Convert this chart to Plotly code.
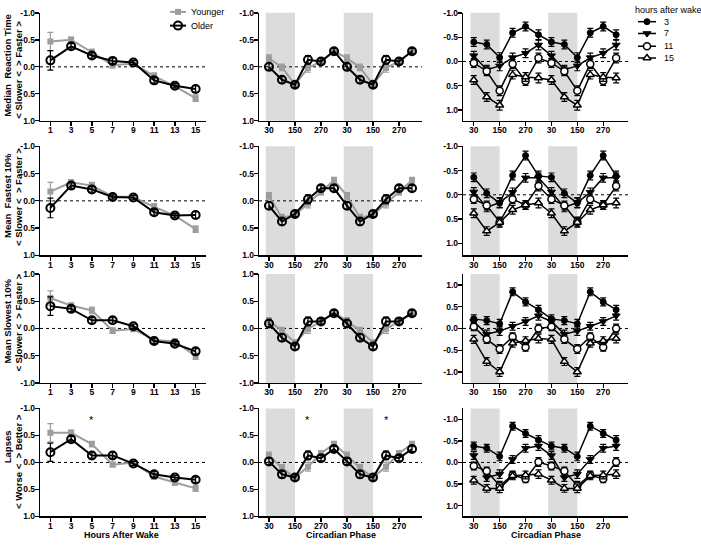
import plotly.graph_objects as go
from plotly.subplots import make_subplots

W, H = 701, 546

hours = [1, 3, 5, 7, 9, 11, 13, 15]
# circadian phase is double-plotted: 6 bins shown twice
phase = [30, 90, 150, 210, 270, 330, 390, 450, 510, 570, 630, 690]
phase_ticks = [30, 150, 270, 390, 510, 630]
phase_labels = ['30', '150', '270', '30', '150', '270']
y_ticks = [-1.0, -0.5, 0.0, 0.5, 1.0]
y_labels = ['-1.0', '-0.5', '0.0', '0.5', '1.0']
groups = ['Younger', 'Older']
wake_groups = ['3', '7', '11', '15']

# --- column 1: hours after wake ---
young_rt_hw = [-0.47, -0.50, -0.27, -0.03, -0.06, 0.17, 0.36, 0.58]
young_rt_hw_err = [0.17, 0.05, 0.06, 0.05, 0.05, 0.06, 0.05, 0.06]
old_rt_hw = [-0.12, -0.38, -0.21, -0.11, -0.08, 0.25, 0.35, 0.41]
old_rt_hw_err = [0.18, 0.05, 0.05, 0.05, 0.04, 0.05, 0.04, 0.06]

young_fast_hw = [-0.17, -0.34, -0.28, -0.08, -0.07, 0.11, 0.27, 0.52]
young_fast_hw_err = [0.17, 0.05, 0.06, 0.05, 0.04, 0.06, 0.05, 0.06]
old_fast_hw = [0.13, -0.28, -0.21, -0.07, -0.06, 0.21, 0.27, 0.26]
old_fast_hw_err = [0.18, 0.05, 0.05, 0.04, 0.04, 0.05, 0.04, 0.06]

young_slow_hw = [0.56, 0.42, 0.33, -0.04, -0.01, -0.21, -0.24, -0.51]
young_slow_hw_err = [0.13, 0.05, 0.06, 0.05, 0.05, 0.05, 0.05, 0.06]
old_slow_hw = [0.41, 0.36, 0.15, 0.15, 0.04, -0.23, -0.28, -0.42]
old_slow_hw_err = [0.17, 0.05, 0.05, 0.05, 0.04, 0.05, 0.04, 0.05]

young_lapse_hw = [-0.55, -0.55, -0.34, 0.04, 0.00, 0.26, 0.37, 0.48]
young_lapse_hw_err = [0.17, 0.05, 0.05, 0.04, 0.04, 0.05, 0.05, 0.05]
old_lapse_hw = [-0.19, -0.43, -0.13, -0.13, 0.02, 0.22, 0.28, 0.32]
old_lapse_hw_err = [0.17, 0.05, 0.05, 0.05, 0.04, 0.05, 0.04, 0.05]

# --- column 2: circadian phase by age group (6 bins) ---
young_rt_cp = [-0.16, 0.01, 0.33, 0.02, -0.10, -0.29]
old_rt_cp = [0.00, 0.24, 0.33, -0.13, -0.10, -0.29]
young_fast_cp = [-0.09, 0.31, 0.26, 0.05, -0.16, -0.38]
old_fast_cp = [0.09, 0.38, 0.24, -0.03, -0.23, -0.23]
young_slow_cp = [0.14, -0.04, -0.26, -0.01, 0.13, 0.29]
old_slow_cp = [0.09, -0.17, -0.33, 0.13, 0.13, 0.28]
young_lapse_cp = [-0.13, 0.10, 0.28, 0.08, -0.17, -0.34]
old_lapse_cp = [-0.02, 0.22, 0.28, -0.13, -0.08, -0.25]
cp_err = [0.06, 0.06, 0.05, 0.08, 0.05, 0.05]

# --- column 3: circadian phase by hours after wake (6 bins) ---
wake_rt = [
    [-0.40, -0.35, -0.08, -0.59, -0.72, -0.55],
    [-0.12, 0.17, 0.09, -0.08, -0.17, -0.34],
    [0.03, 0.20, 0.60, 0.05, 0.40, -0.07],
    [0.38, 0.73, 0.90, 0.27, 0.32, 0.34],
]
wake_fast = [
    [-0.36, -0.03, 0.17, -0.40, -0.81, -0.39],
    [-0.06, 0.26, 0.16, -0.05, -0.35, -0.35],
    [0.09, 0.22, 0.56, 0.09, 0.21, -0.18],
    [0.38, 0.75, 0.57, 0.31, 0.21, 0.17],
]
wake_slow = [
    [0.22, 0.18, 0.11, 0.84, 0.61, 0.43],
    [0.16, -0.13, -0.06, 0.05, 0.16, 0.29],
    [0.04, -0.25, -0.47, -0.19, -0.43, 0.00],
    [-0.25, -0.76, -1.00, -0.34, -0.28, -0.23],
]
wake_lapse = [
    [-0.38, -0.33, -0.14, -0.84, -0.67, -0.52],
    [-0.16, 0.35, 0.27, -0.07, -0.33, -0.38],
    [0.08, 0.20, 0.54, 0.29, 0.38, -0.01],
    [0.41, 0.60, 0.60, 0.31, 0.29, 0.27],
]
wake_err = [0.09, 0.09, 0.10, 0.09, 0.09, 0.10]

row_titles = [
    ('Median&nbsp; Reaction Time', '&lt; Slower &lt;&nbsp; &gt; Faster &gt;'),
    ('Mean&nbsp; Fastest 10%', '&lt; Slower &lt;&nbsp; &gt; Faster &gt;'),
    ('Mean Slowest 10%', '&lt; Slower &lt;&nbsp; &gt; Faster &gt;'),
    ('Lapses', '&lt; Worse &lt;&nbsp; &gt; Better &gt;'),
]

hw_young = [(young_rt_hw, young_rt_hw_err), (young_fast_hw, young_fast_hw_err),
            (young_slow_hw, young_slow_hw_err), (young_lapse_hw, young_lapse_hw_err)]
hw_old = [(old_rt_hw, old_rt_hw_err), (old_fast_hw, old_fast_hw_err),
          (old_slow_hw, old_slow_hw_err), (old_lapse_hw, old_lapse_hw_err)]
cp_young = [young_rt_cp, young_fast_cp, young_slow_cp, young_lapse_cp]
cp_old = [old_rt_cp, old_fast_cp, old_slow_cp, old_lapse_cp]
cp_wake = [wake_rt, wake_fast, wake_slow, wake_lapse]

GRAY = '#9d9d9d'
FONT = 'Liberation Sans'

age_style = {
    'Younger': dict(color=GRAY, symbol='square', size=6, line=dict(width=0)),
    'Older': dict(color='black', symbol='circle-open', size=8, line=dict(width=2)),
}
wake_style = {
    '3': dict(color='black', symbol='circle', size=6, line=dict(width=1, color='black')),
    '7': dict(color='black', symbol='triangle-down', size=7, line=dict(width=1, color='black')),
    '11': dict(color='white', symbol='circle', size=7, line=dict(width=1.5, color='black')),
    '15': dict(color='white', symbol='triangle-up', size=7, line=dict(width=1.5, color='black')),
}

col_px = [(40, 206), (259, 422), (463, 628)]
row_px = [(8, 118), (144, 255), (274, 385), (411, 521)]
x_ranges = [[0, 16], [-16, 736], [-20, 745]]
y_ranges_age = [[1, -1], [1, -1], [-1, 1], [1, -1]]
y_ranges_wake = [[1.22, -1.0], [1.25, -1.0], [-1.25, 1.25], [1.25, -1.25]]

fig = make_subplots(rows=4, cols=3)


def err_bar(err, color):
    return dict(type='data', array=err, color=color, thickness=1.2, width=3)


for r in range(4):
    # column 1
    for g, (vals, err) in zip(groups, [hw_young[r], hw_old[r]]):
        st = age_style[g]
        fig.add_trace(go.Scatter(x=hours, y=vals, mode='lines+markers',
                                 line=dict(color=st['color'], width=2), marker=st,
                                 error_y=err_bar(err, st['color']), showlegend=False),
                      row=r + 1, col=1)
    # column 2
    for g, vals in zip(groups, [cp_young[r], cp_old[r]]):
        st = age_style[g]
        fig.add_trace(go.Scatter(x=phase, y=vals + vals, mode='lines+markers',
                                 line=dict(color=st['color'], width=2), marker=st,
                                 error_y=err_bar(cp_err + cp_err, st['color']), showlegend=False),
                      row=r + 1, col=2)
    # column 3
    for g, vals in zip(wake_groups, cp_wake[r]):
        st = wake_style[g]
        fig.add_trace(go.Scatter(x=phase, y=vals + vals, mode='lines+markers',
                                 line=dict(color='black', width=1.5), marker=st,
                                 error_y=err_bar(wake_err + wake_err, 'black'), showlegend=False),
                      row=r + 1, col=3)

axis_common = dict(showline=True, linecolor='black', linewidth=1.3, ticks='outside',
                   ticklen=4, tickwidth=1.3, tickcolor='black', showgrid=False, zeroline=False,
                   tickfont=dict(family=FONT, size=8.5, color='black', weight='bold'))

shapes = []
for r in range(4):
    for c in range(3):
        n = r * 3 + c + 1
        sfx = '' if n == 1 else str(n)
        x0, x1 = col_px[c]
        y0, y1 = row_px[r]
        xa = dict(domain=[x0 / W, x1 / W], range=x_ranges[c], ticklabelstandoff=-3, **axis_common)
        if c == 0:
            xa.update(tickvals=hours)
        else:
            xa.update(tickvals=phase_ticks, ticktext=phase_labels)
        ya = dict(domain=[1 - y1 / H, 1 - y0 / H],
                  range=y_ranges_wake[r] if c == 2 else y_ranges_age[r],
                  tickvals=y_ticks, ticktext=y_labels, ticklabelstandoff=-2, **axis_common)
        fig.layout['xaxis' + sfx].update(xa)
        fig.layout['yaxis' + sfx].update(ya)
        if c > 0:
            for sx in (15, 375):
                shapes.append(dict(type='rect', xref='x' + sfx, yref='y' + sfx + ' domain',
                                   x0=sx, x1=sx + 135, y0=0, y1=1, fillcolor='#dcdcdc',
                                   line=dict(width=0), layer='below'))
        shapes.append(dict(type='line', xref='x' + sfx + ' domain', yref='y' + sfx,
                           x0=0, x1=1, y0=0, y1=0, line=dict(color='black', width=1, dash='dot'),
                           layer='below'))

annotations = []
title_font = dict(family=FONT, size=9.5, color='black')
title_centers = [(61.5, 66.5), (194, 196), (322, 324), (450, 465)]
for r, (t1, t2) in enumerate(row_titles):
    for xp, txt, yc in ((7.5, t1, title_centers[r][0]), (18.5, t2, title_centers[r][1])):
        annotations.append(dict(text='<b>' + txt + '</b>', x=xp / W, y=1 - yc / H, xref='paper',
                                yref='paper', textangle=-90, showarrow=False, font=title_font,
                                xanchor='center', yanchor='middle', borderpad=0))

for txt, xc in (('Hours After Wake', 121), ('Circadian Phase', 341), ('Circadian Phase', 546)):
    annotations.append(dict(text='<b>' + txt + '</b>', x=xc / W, y=0, xref='paper', yref='paper',
                            showarrow=False, font=dict(family=FONT, size=9, color='black'),
                            xanchor='center', yanchor='bottom', borderpad=0))

# significance markers (lapses row)
for xr, yr, xv in (('x10', 'y10', 5), ('x11', 'y11', 210), ('x11', 'y11', 570)):
    annotations.append(dict(text='*', x=xv, y=-0.78, xref=xr, yref=yr, showarrow=False,
                            font=dict(family=FONT, size=11, color='black')))

# legends drawn on an overlay axis in pixel units
leg_font = dict(family=FONT, size=9, color='black')
for g, yy in zip(groups, (7, 21)):
    st = age_style[g]
    fig.add_trace(go.Scatter(x=[170, 186], y=[yy, yy], mode='lines', line=dict(color=st['color'], width=2),
                             xaxis='x13', yaxis='y13', showlegend=False, hoverinfo='skip'))
    fig.add_trace(go.Scatter(x=[178], y=[yy], mode='markers', marker=st,
                             xaxis='x13', yaxis='y13', showlegend=False, hoverinfo='skip'))
    annotations.append(dict(text=g, x=189 / W, y=1 - yy / H, xref='paper', yref='paper',
                            showarrow=False, xanchor='left', yanchor='middle', font=leg_font))

annotations.append(dict(text='hours after wake', x=633 / W, y=1 - 5 / H, xref='paper', yref='paper',
                        showarrow=False, xanchor='left', yanchor='middle', font=leg_font))
for g, yy in zip(wake_groups, (17, 29, 42, 54)):
    st = wake_style[g]
    fig.add_trace(go.Scatter(x=[638, 656], y=[yy, yy], mode='lines', line=dict(color='black', width=1.5),
                             xaxis='x13', yaxis='y13', showlegend=False, hoverinfo='skip'))
    fig.add_trace(go.Scatter(x=[647], y=[yy], mode='markers', marker=st,
                             xaxis='x13', yaxis='y13', showlegend=False, hoverinfo='skip'))
    annotations.append(dict(text=g, x=662 / W, y=1 - yy / H, xref='paper', yref='paper',
                            showarrow=False, xanchor='left', yanchor='middle', font=leg_font))

fig.update_layout(
    width=W, height=H,
    margin=dict(l=0, r=0, t=0, b=0),
    paper_bgcolor='white', plot_bgcolor='rgba(0,0,0,0)',
    font=dict(family=FONT, color='black'),
    xaxis13=dict(domain=[0, 1], range=[0, W], visible=False, anchor='y13', fixedrange=True),
    yaxis13=dict(domain=[0, 1], range=[H, 0], visible=False, anchor='x13', fixedrange=True),
    shapes=shapes,
    annotations=annotations,
    showlegend=False,
)

# page body has a default 8px margin; drop it so the figure sits at the window origin
fig.write_html("out.html", config={'staticPlot': True},
               post_script="document.body.style.margin='0px';")
